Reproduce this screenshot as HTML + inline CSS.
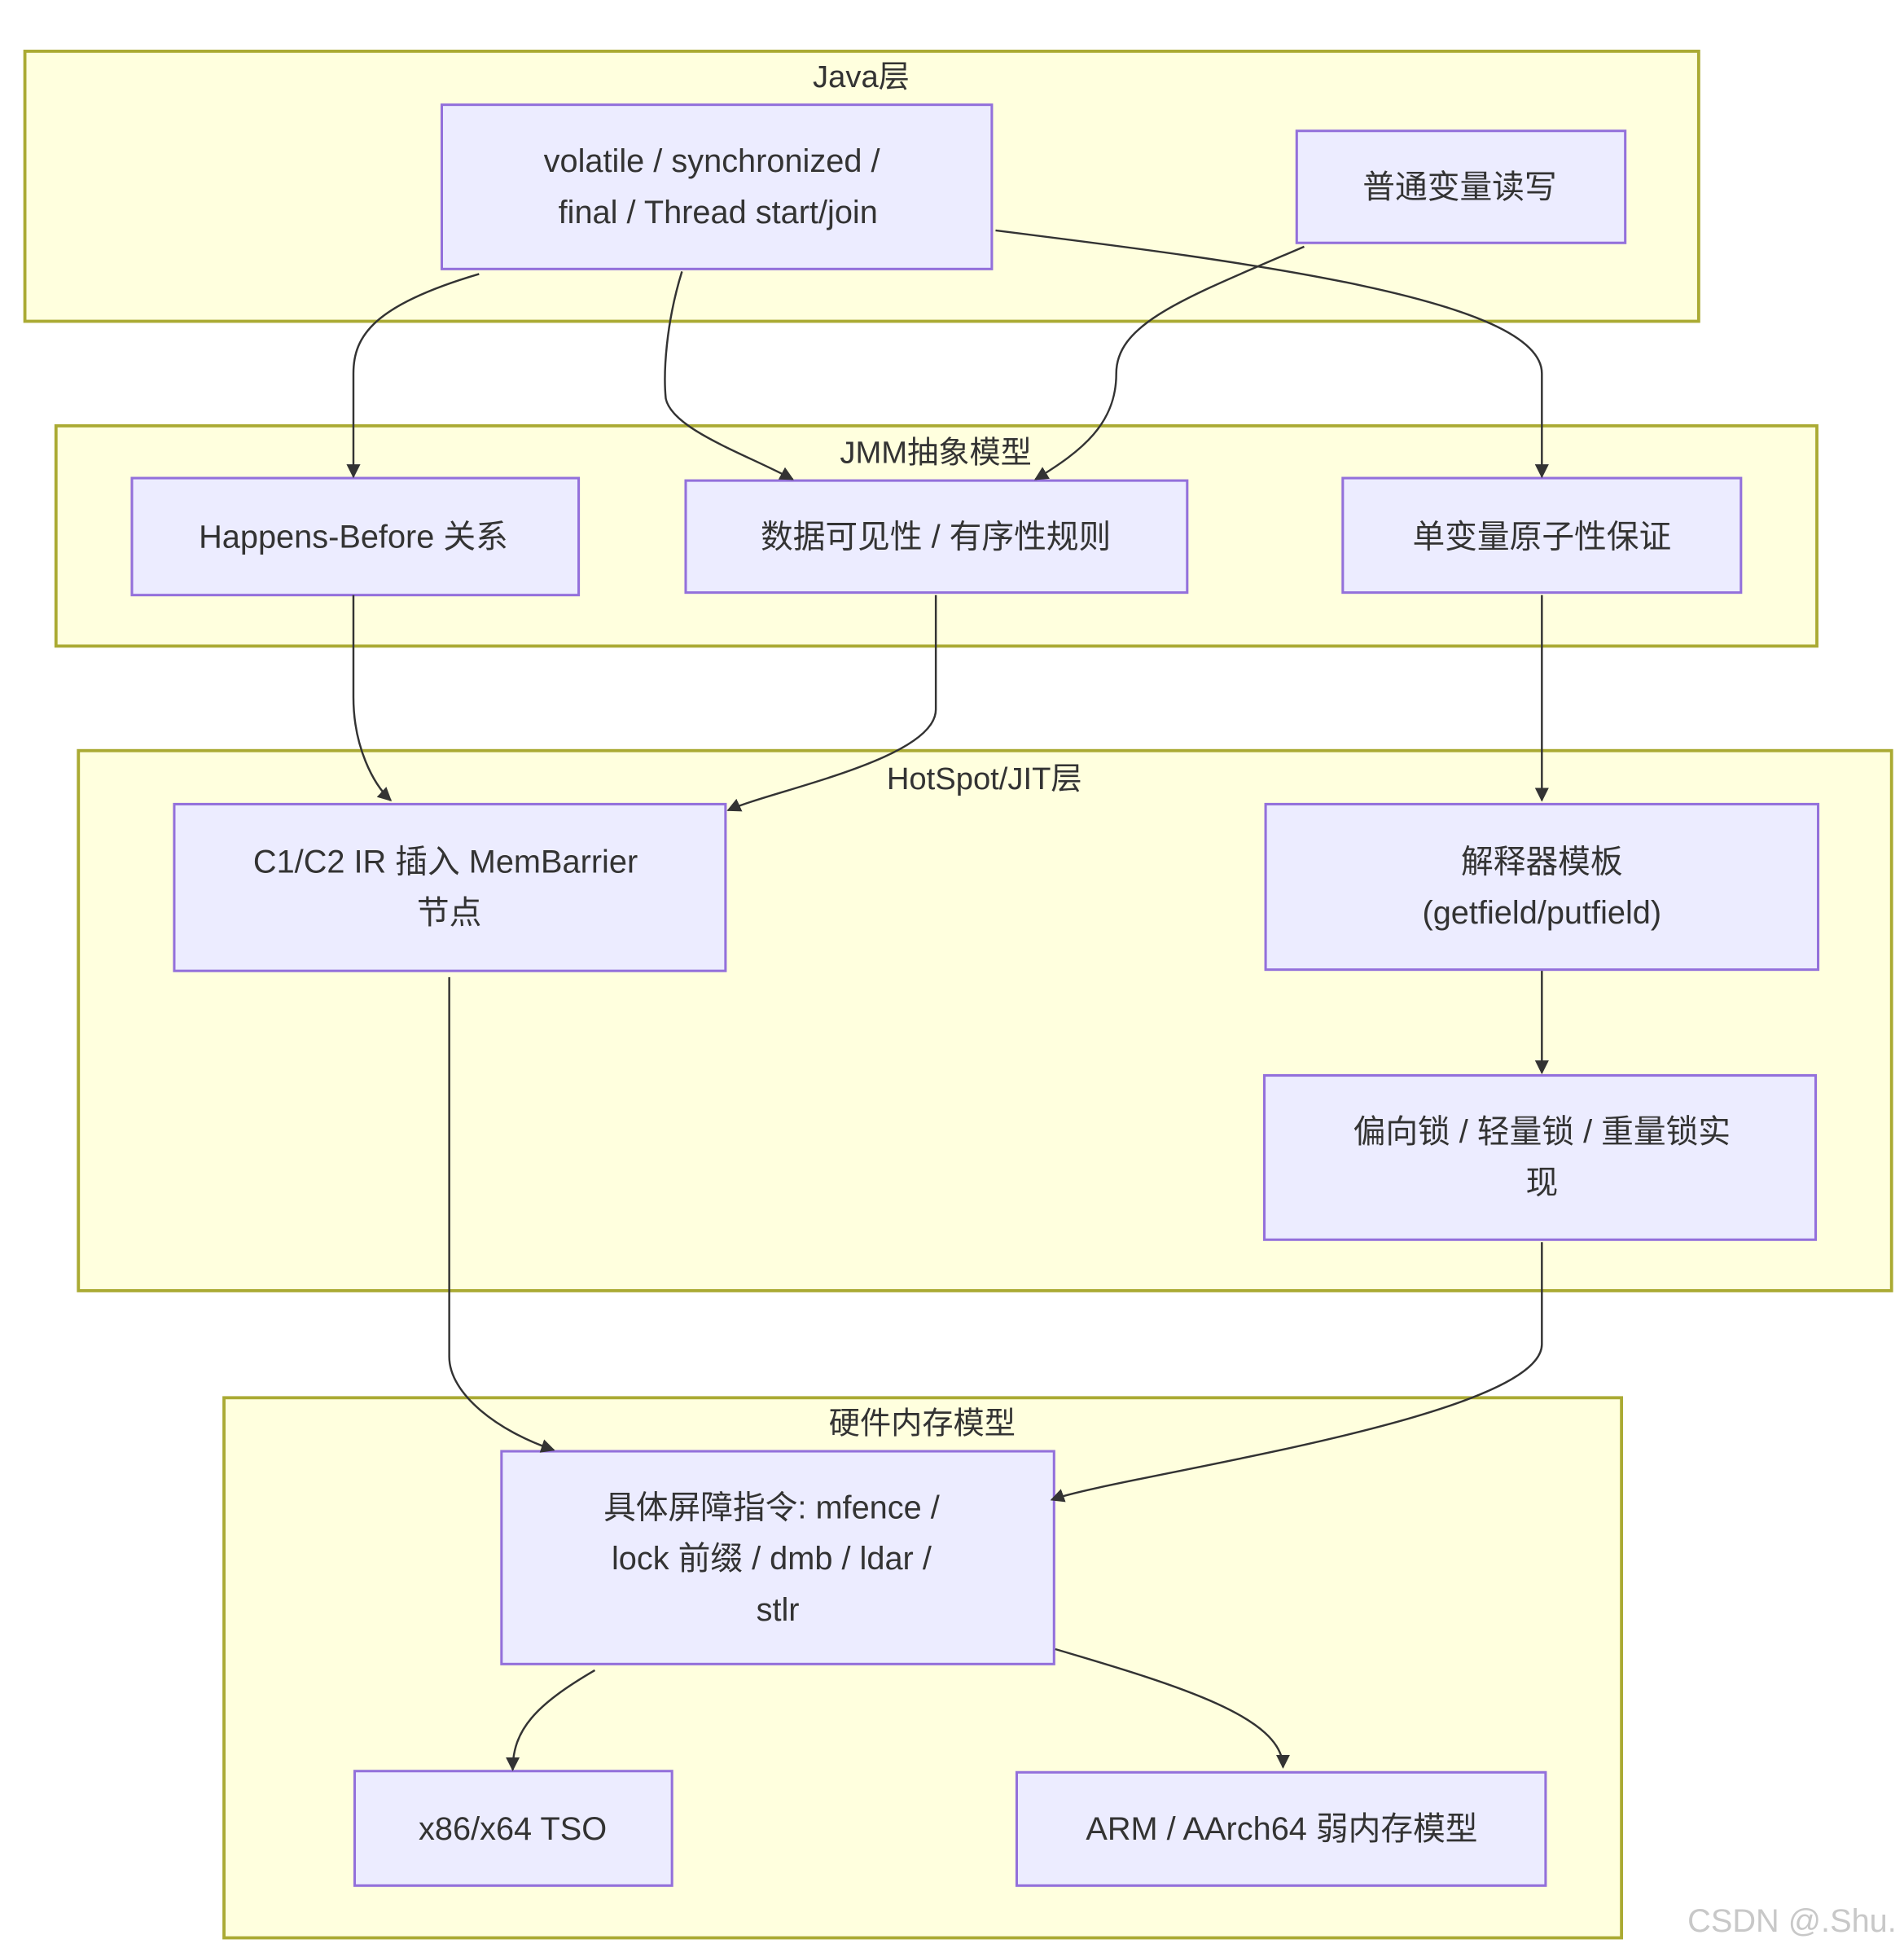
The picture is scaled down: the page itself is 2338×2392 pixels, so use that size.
<!DOCTYPE html>
<html><head><meta charset="utf-8"><style>
html,body{margin:0;padding:0;background:#fff;}
svg{display:block;}
text{font-family:"Liberation Sans","Noto Sans CJK SC",sans-serif;fill:#333;text-anchor:middle;}
.layer{fill:#ffffde;stroke:#aaaa33;stroke-width:2.5;}
.node{fill:#ececff;stroke:#9370db;stroke-width:2;}
.e{fill:none;stroke:#333;stroke-width:1.6;}
</style></head><body>
<svg width="2338" height="2392" viewBox="0 0 1530 1565" xmlns="http://www.w3.org/2000/svg">
<defs><marker id="a" viewBox="0 0 10 10" refX="9" refY="5" markerWidth="7" markerHeight="7" orient="auto"><path d="M0,0 L10,5 L0,10 z" fill="#333"/></marker></defs>
<rect class="layer" x="20" y="41" width="1345" height="217"/>
<rect class="layer" x="45" y="342" width="1415" height="177"/>
<rect class="layer" x="63" y="603" width="1457" height="434"/>
<rect class="layer" x="180" y="1123" width="1123" height="434"/>
<text x="692" y="70" font-size="25">Java层</text>
<text x="752" y="372" font-size="25">JMM抽象模型</text>
<text x="791" y="634" font-size="25">HotSpot/JIT层</text>
<text x="741" y="1152" font-size="25">硬件内存模型</text>

<rect class="node" x="355" y="84" width="442" height="132"/>
<text x="572" y="138" font-size="26">volatile / synchronized /</text>
<text x="577" y="179" font-size="26">final / Thread start/join</text>
<rect class="node" x="1042" y="105" width="264" height="90"/>
<text x="1173" y="159" font-size="26">普通变量读写</text>

<rect class="node" x="106" y="384" width="359" height="94"/>
<text x="284" y="440" font-size="26">Happens-Before 关系</text>
<rect class="node" x="551" y="386" width="403" height="90"/>
<text x="752" y="440" font-size="26">数据可见性 / 有序性规则</text>
<rect class="node" x="1079" y="384" width="320" height="92"/>
<text x="1239" y="440" font-size="26">单变量原子性保证</text>

<rect class="node" x="140" y="646" width="443" height="134"/>
<text x="358" y="701" font-size="26">C1/C2 IR 插入 MemBarrier</text>
<text x="361" y="742" font-size="26">节点</text>
<rect class="node" x="1017" y="646" width="444" height="133"/>
<text x="1239" y="701" font-size="26">解释器模板</text>
<text x="1239" y="742" font-size="26">(getfield/putfield)</text>
<rect class="node" x="1016" y="864" width="443" height="132"/>
<text x="1239" y="918" font-size="26">偏向锁 / 轻量锁 / 重量锁实</text>
<text x="1239" y="959" font-size="26">现</text>

<rect class="node" x="403" y="1166" width="444" height="171"/>
<text x="620" y="1220" font-size="26">具体屏障指令: mfence /</text>
<text x="620" y="1261" font-size="26">lock 前缀 / dmb / ldar /</text>
<text x="625" y="1302" font-size="26">stlr</text>
<rect class="node" x="285" y="1423" width="255" height="92"/>
<text x="412" y="1478" font-size="26">x86/x64 TSO</text>
<rect class="node" x="817" y="1424" width="425" height="91"/>
<text x="1030" y="1478" font-size="26">ARM / AArch64 弱内存模型</text>

<path class="e" marker-end="url(#a)" d="M385,220 C300,245 284,270 284,300 L284,383"/>
<path class="e" marker-end="url(#a)" d="M548,218 C535,260 533,300 535,320 C540,345 600,365 637,385"/>
<path class="e" marker-end="url(#a)" d="M1048,198 C950,240 897,260 897,300 C897,340 870,362 832,385"/>
<path class="e" marker-end="url(#a)" d="M800,185 C1000,210 1239,240 1239,300 L1239,383"/>
<path class="e" marker-end="url(#a)" d="M284,478 L284,560 C284,600 300,630 314,643"/>
<path class="e" marker-end="url(#a)" d="M752,478 L752,570 C752,610 620,635 585,651"/>
<path class="e" marker-end="url(#a)" d="M1239,478 L1239,643"/>
<path class="e" marker-end="url(#a)" d="M1239,780 L1239,862"/>
<path class="e" marker-end="url(#a)" d="M361,785 L361,1090 C361,1120 400,1150 445,1165"/>
<path class="e" marker-end="url(#a)" d="M1239,998 L1239,1080 C1239,1140 900,1185 845,1205"/>
<path class="e" marker-end="url(#a)" d="M478,1342 C430,1370 412,1390 412,1422"/>
<path class="e" marker-end="url(#a)" d="M848,1325 C950,1355 1031,1380 1031,1420"/>
<text x="1440" y="1552" font-size="26" style="fill:#c8c8c8">CSDN @.Shu.</text>
</svg>
</body></html>
